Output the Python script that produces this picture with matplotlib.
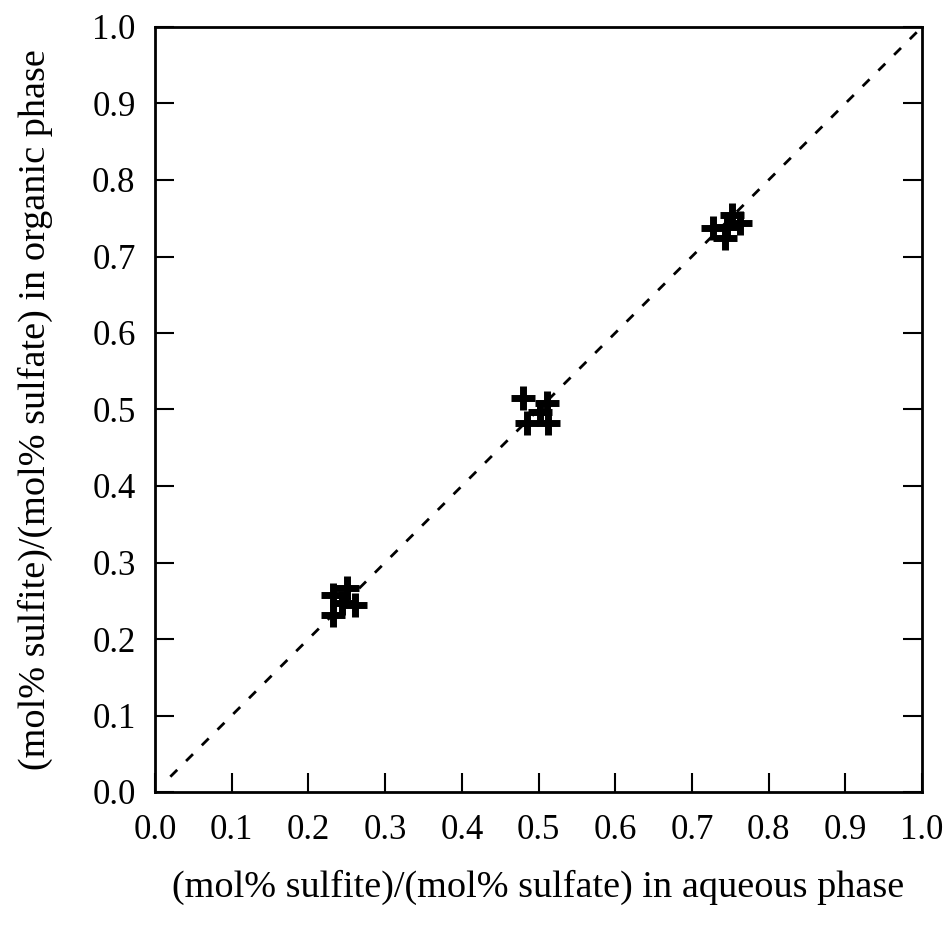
import matplotlib
matplotlib.use("Agg")
import matplotlib.pyplot as plt
import numpy as np

aq_025 = [0.232, 0.250, 0.261, 0.232, 0.244]
org_025 = [0.258, 0.267, 0.244, 0.231, 0.247]
aq_050 = [0.480, 0.511, 0.485, 0.512, 0.502]
org_050 = [0.515, 0.508, 0.482, 0.482, 0.497]
aq_075 = [0.727, 0.752, 0.763, 0.743, 0.746]
org_075 = [0.737, 0.754, 0.744, 0.724, 0.739]
ticks = [0.0, 0.1, 0.2, 0.3, 0.4, 0.5, 0.6, 0.7, 0.8, 0.9, 1.0]
tick_labels = ["0.0", "0.1", "0.2", "0.3", "0.4", "0.5", "0.6", "0.7", "0.8", "0.9", "1.0"]

plt.rcParams['font.family'] = ['Liberation Serif', 'DejaVu Serif']

fig = plt.figure(figsize=(9.46, 9.31), dpi=100)
ax = fig.add_axes([155/946, 1-792/931, (922-155)/946, (792-27)/931])

ax.plot([0.02, 1.0], [0.02, 1.0], color='black', lw=2, linestyle=(0, (3.5, 4.5)))
for xs, ys in [(aq_025, org_025), (aq_050, org_050), (aq_075, org_075)]:
    ax.plot(xs, ys, linestyle='none', marker='+', markersize=17, markeredgewidth=5, color='black')

ax.set_xlim(0, 1)
ax.set_ylim(0, 1)
ax.set_xticks(ticks)
ax.set_xticklabels(tick_labels)
ax.set_yticks(ticks)
ax.set_yticklabels(tick_labels)
ax.tick_params(axis='x', direction='in', bottom=True, top=False, length=14, width=1.5, labelsize=25, pad=16)
ax.tick_params(axis='y', direction='in', left=True, right=True, labelleft=True, length=14, width=1.5, labelsize=25, pad=14)
for s in ax.spines.values():
    s.set_linewidth(2)

ax.set_xlabel("(mol% sulfite)/(mol% sulfate) in aqueous phase", fontsize=27.5, labelpad=16)
ax.set_ylabel("(mol% sulfite)/(mol% sulfate) in organic phase", fontsize=27.5, labelpad=28)

fig.savefig("out.png", dpi=100)
